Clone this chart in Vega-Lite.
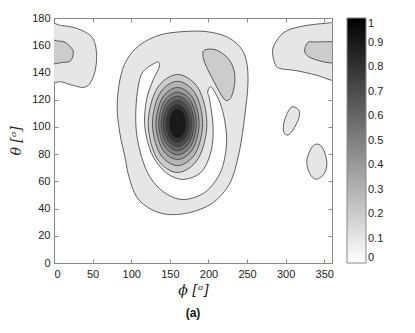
{
  "$schema": "https://vega.github.io/schema/vega-lite/v6.json",
  "width": 278,
  "height": 245,
  "autosize": {"type": "none"},
  "padding": {"left": 54, "top": 18, "right": 83, "bottom": 70},
  "title": {"text": "(a)", "orient": "bottom", "anchor": "middle", "frame": "group", "font": "Liberation Sans", "fontSize": 12, "fontWeight": "bold", "color": "#111", "offset": 11},
  "data": {"values": [
    {"s":"01","level":0.1,"i":0,"phi":167,"theta":170},
    {"s":"01","level":0.1,"i":1,"phi":137,"theta":167.5},
    {"s":"01","level":0.1,"i":2,"phi":111.2,"theta":160.2},
    {"s":"01","level":0.1,"i":3,"phi":94,"theta":149},
    {"s":"01","level":0.1,"i":4,"phi":85.3,"theta":134.5},
    {"s":"01","level":0.1,"i":5,"phi":81.8,"theta":114.8},
    {"s":"01","level":0.1,"i":6,"phi":85.3,"theta":95.3},
    {"s":"01","level":0.1,"i":7,"phi":91.8,"theta":78.1},
    {"s":"01","level":0.1,"i":8,"phi":97,"theta":63.4},
    {"s":"01","level":0.1,"i":9,"phi":106.9,"theta":48.7},
    {"s":"01","level":0.1,"i":10,"phi":124,"theta":40},
    {"s":"01","level":0.1,"i":11,"phi":145.7,"theta":35.8},
    {"s":"01","level":0.1,"i":12,"phi":171.5,"theta":36.5},
    {"s":"01","level":0.1,"i":13,"phi":197.4,"theta":41.4},
    {"s":"01","level":0.1,"i":14,"phi":214.6,"theta":48.7},
    {"s":"01","level":0.1,"i":15,"phi":229.7,"theta":61},
    {"s":"01","level":0.1,"i":16,"phi":240.4,"theta":83},
    {"s":"01","level":0.1,"i":17,"phi":246.9,"theta":107.5},
    {"s":"01","level":0.1,"i":18,"phi":251.2,"theta":132},
    {"s":"01","level":0.1,"i":19,"phi":249,"theta":149},
    {"s":"01","level":0.1,"i":20,"phi":240.4,"theta":159},
    {"s":"01","level":0.1,"i":21,"phi":223.2,"theta":166.3},
    {"s":"01","level":0.1,"i":22,"phi":197.4,"theta":170},

    {"s":"02","level":0.1,"i":0,"phi":-15,"theta":174.5},
    {"s":"02","level":0.1,"i":1,"phi":10,"theta":174.4},
    {"s":"02","level":0.1,"i":2,"phi":29.3,"theta":172.4},
    {"s":"02","level":0.1,"i":3,"phi":46.5,"theta":167.5},
    {"s":"02","level":0.1,"i":4,"phi":53,"theta":161.4},
    {"s":"02","level":0.1,"i":5,"phi":55.2,"theta":151.6},
    {"s":"02","level":0.1,"i":6,"phi":53,"theta":140.6},
    {"s":"02","level":0.1,"i":7,"phi":46.5,"theta":132},
    {"s":"02","level":0.1,"i":8,"phi":37.9,"theta":129},
    {"s":"02","level":0.1,"i":9,"phi":22.9,"theta":130.8},
    {"s":"02","level":0.1,"i":10,"phi":10,"theta":133},
    {"s":"02","level":0.1,"i":11,"phi":-15,"theta":136},

    {"s":"03","level":0.1,"i":0,"phi":375,"theta":178},
    {"s":"03","level":0.1,"i":1,"phi":358,"theta":176.5},
    {"s":"03","level":0.1,"i":2,"phi":326.6,"theta":174.5},
    {"s":"03","level":0.1,"i":3,"phi":300.8,"theta":170.5},
    {"s":"03","level":0.1,"i":4,"phi":288,"theta":163},
    {"s":"03","level":0.1,"i":5,"phi":283,"theta":156},
    {"s":"03","level":0.1,"i":6,"phi":285.7,"theta":147},
    {"s":"03","level":0.1,"i":7,"phi":292,"theta":143},
    {"s":"03","level":0.1,"i":8,"phi":313.7,"theta":141.3},
    {"s":"03","level":0.1,"i":9,"phi":339.6,"theta":138},
    {"s":"03","level":0.1,"i":10,"phi":358,"theta":134.5},
    {"s":"03","level":0.1,"i":11,"phi":375,"theta":132},

    {"s":"04","level":0.1,"i":0,"phi":307.2,"theta":114.4},
    {"s":"04","level":0.1,"i":1,"phi":317,"theta":112.4},
    {"s":"04","level":0.1,"i":2,"phi":317,"theta":106.3},
    {"s":"04","level":0.1,"i":3,"phi":309.3,"theta":97.7},
    {"s":"04","level":0.1,"i":4,"phi":302.9,"theta":94},
    {"s":"04","level":0.1,"i":5,"phi":297.3,"theta":96.5},
    {"s":"04","level":0.1,"i":6,"phi":298.6,"theta":105.1},

    {"s":"05","level":0.1,"i":0,"phi":339.6,"theta":87.4},
    {"s":"05","level":0.1,"i":1,"phi":348.1,"theta":84.3},
    {"s":"05","level":0.1,"i":2,"phi":353.3,"theta":74.4},
    {"s":"05","level":0.1,"i":3,"phi":350.3,"theta":65.9},
    {"s":"05","level":0.1,"i":4,"phi":339.6,"theta":61.5},
    {"s":"05","level":0.1,"i":5,"phi":331,"theta":65.9},
    {"s":"05","level":0.1,"i":6,"phi":327.4,"theta":74.4},
    {"s":"05","level":0.1,"i":7,"phi":331.8,"theta":83},

    {"s":"06","level":0,"i":0,"phi":133,"theta":147.5},
    {"s":"06","level":0,"i":1,"phi":115.4,"theta":140.6},
    {"s":"06","level":0,"i":2,"phi":109,"theta":129.5},
    {"s":"06","level":0,"i":3,"phi":106,"theta":112.4},
    {"s":"06","level":0,"i":4,"phi":106.9,"theta":95.3},
    {"s":"06","level":0,"i":5,"phi":113.3,"theta":78.1},
    {"s":"06","level":0,"i":6,"phi":124,"theta":63.4},
    {"s":"06","level":0,"i":7,"phi":141.3,"theta":52.4},
    {"s":"06","level":0,"i":8,"phi":163,"theta":46.8},
    {"s":"06","level":0,"i":9,"phi":184.4,"theta":48.7},
    {"s":"06","level":0,"i":10,"phi":201.6,"theta":54.9},
    {"s":"06","level":0,"i":11,"phi":216.8,"theta":68.3},
    {"s":"06","level":0,"i":12,"phi":223.2,"theta":85.5},
    {"s":"06","level":0,"i":13,"phi":222.3,"theta":100},
    {"s":"06","level":0,"i":14,"phi":216.8,"theta":114.8},
    {"s":"06","level":0,"i":15,"phi":208,"theta":125.9},
    {"s":"06","level":0,"i":16,"phi":202.5,"theta":129.5},
    {"s":"06","level":0,"i":17,"phi":199,"theta":125.5},
    {"s":"06","level":0,"i":18,"phi":201.6,"theta":119.8},
    {"s":"06","level":0,"i":19,"phi":206,"theta":100},
    {"s":"06","level":0,"i":20,"phi":203.8,"theta":83},
    {"s":"06","level":0,"i":21,"phi":193,"theta":68.3},
    {"s":"06","level":0,"i":22,"phi":175.8,"theta":62.2},
    {"s":"06","level":0,"i":23,"phi":158.6,"theta":62.2},
    {"s":"06","level":0,"i":24,"phi":141.3,"theta":68.3},
    {"s":"06","level":0,"i":25,"phi":126.3,"theta":80.6},
    {"s":"06","level":0,"i":26,"phi":117.6,"theta":100},
    {"s":"06","level":0,"i":27,"phi":119.8,"theta":119.8},
    {"s":"06","level":0,"i":28,"phi":128.4,"theta":134.5},
    {"s":"06","level":0,"i":29,"phi":134.8,"theta":141.8},
    {"s":"06","level":0,"i":30,"phi":136.5,"theta":145.5},

    {"s":"07","level":0.2,"i":0,"phi":-10,"theta":163.3},
    {"s":"07","level":0.2,"i":1,"phi":5,"theta":163.1},
    {"s":"07","level":0.2,"i":2,"phi":14.2,"theta":162.2},
    {"s":"07","level":0.2,"i":3,"phi":22.9,"theta":157.7},
    {"s":"07","level":0.2,"i":4,"phi":25,"theta":154},
    {"s":"07","level":0.2,"i":5,"phi":21.6,"theta":148.6},
    {"s":"07","level":0.2,"i":6,"phi":12,"theta":147.4},
    {"s":"07","level":0.2,"i":7,"phi":-10,"theta":147.4},

    {"s":"08","level":0.2,"i":0,"phi":375,"theta":162.8},
    {"s":"08","level":0.2,"i":1,"phi":358,"theta":162.6},
    {"s":"08","level":0.2,"i":2,"phi":338,"theta":162.4},
    {"s":"08","level":0.2,"i":3,"phi":328.7,"theta":162},
    {"s":"08","level":0.2,"i":4,"phi":324.5,"theta":155.8},
    {"s":"08","level":0.2,"i":5,"phi":330,"theta":151.5},
    {"s":"08","level":0.2,"i":6,"phi":344,"theta":148.5},
    {"s":"08","level":0.2,"i":7,"phi":358,"theta":147},
    {"s":"08","level":0.2,"i":8,"phi":375,"theta":146.7},

    {"s":"09","level":0.2,"i":0,"phi":195,"theta":156.5},
    {"s":"09","level":0.2,"i":1,"phi":210,"theta":156.5},
    {"s":"09","level":0.2,"i":2,"phi":225.3,"theta":150.4},
    {"s":"09","level":0.2,"i":3,"phi":233,"theta":141.8},
    {"s":"09","level":0.2,"i":4,"phi":234,"theta":132},
    {"s":"09","level":0.2,"i":5,"phi":229.7,"theta":122.2},
    {"s":"09","level":0.2,"i":6,"phi":223.2,"theta":119.3},
    {"s":"09","level":0.2,"i":7,"phi":216.7,"theta":123.4},
    {"s":"09","level":0.2,"i":8,"phi":206,"theta":134.5},
    {"s":"09","level":0.2,"i":9,"phi":197.4,"theta":144.2},
    {"s":"09","level":0.2,"i":10,"phi":193,"theta":151.6},

    {"s":"10","level":0.2,"i":0,"phi":198,"theta":102.5},
    {"s":"10","level":0.2,"i":1,"phi":187,"theta":128.2},
    {"s":"10","level":0.2,"i":2,"phi":160,"theta":138.5},
    {"s":"10","level":0.2,"i":3,"phi":133.2,"theta":128},
    {"s":"10","level":0.2,"i":4,"phi":122,"theta":102.5},
    {"s":"10","level":0.2,"i":5,"phi":133.2,"theta":77},
    {"s":"10","level":0.2,"i":6,"phi":160,"theta":66.5},
    {"s":"10","level":0.2,"i":7,"phi":187,"theta":77},

    {"s":"11","level":0.3,"i":0,"phi":192.5,"theta":102.5},
    {"s":"11","level":0.3,"i":1,"phi":183,"theta":124.5},
    {"s":"11","level":0.3,"i":2,"phi":160,"theta":133.5},
    {"s":"11","level":0.3,"i":3,"phi":137,"theta":124.5},
    {"s":"11","level":0.3,"i":4,"phi":127.5,"theta":102.5},
    {"s":"11","level":0.3,"i":5,"phi":137,"theta":80.5},
    {"s":"11","level":0.3,"i":6,"phi":160,"theta":71.5},
    {"s":"11","level":0.3,"i":7,"phi":183,"theta":80.5},

    {"s":"12","level":0.4,"i":0,"phi":188,"theta":102.5},
    {"s":"12","level":0.4,"i":1,"phi":179.8,"theta":121.2},
    {"s":"12","level":0.4,"i":2,"phi":160,"theta":129},
    {"s":"12","level":0.4,"i":3,"phi":140.2,"theta":121.2},
    {"s":"12","level":0.4,"i":4,"phi":132,"theta":102.5},
    {"s":"12","level":0.4,"i":5,"phi":140.2,"theta":83.8},
    {"s":"12","level":0.4,"i":6,"phi":160,"theta":76},
    {"s":"12","level":0.4,"i":7,"phi":179.8,"theta":83.8},

    {"s":"13","level":0.5,"i":0,"phi":184.4,"theta":102.5},
    {"s":"13","level":0.5,"i":1,"phi":177.3,"theta":118.8},
    {"s":"13","level":0.5,"i":2,"phi":160,"theta":125.5},
    {"s":"13","level":0.5,"i":3,"phi":142.7,"theta":118.8},
    {"s":"13","level":0.5,"i":4,"phi":135.6,"theta":102.5},
    {"s":"13","level":0.5,"i":5,"phi":142.7,"theta":86.2},
    {"s":"13","level":0.5,"i":6,"phi":160,"theta":79.5},
    {"s":"13","level":0.5,"i":7,"phi":177.3,"theta":86.2},

    {"s":"14","level":0.6,"i":0,"phi":181.5,"theta":102.5},
    {"s":"14","level":0.6,"i":1,"phi":175.2,"theta":116.6},
    {"s":"14","level":0.6,"i":2,"phi":160,"theta":122.5},
    {"s":"14","level":0.6,"i":3,"phi":144.8,"theta":116.6},
    {"s":"14","level":0.6,"i":4,"phi":138.5,"theta":102.5},
    {"s":"14","level":0.6,"i":5,"phi":144.8,"theta":88.4},
    {"s":"14","level":0.6,"i":6,"phi":160,"theta":82.5},
    {"s":"14","level":0.6,"i":7,"phi":175.2,"theta":88.4},

    {"s":"15","level":0.7,"i":0,"phi":178.5,"theta":102.5},
    {"s":"15","level":0.7,"i":1,"phi":173.1,"theta":114.5},
    {"s":"15","level":0.7,"i":2,"phi":160,"theta":119.5},
    {"s":"15","level":0.7,"i":3,"phi":146.9,"theta":114.5},
    {"s":"15","level":0.7,"i":4,"phi":141.5,"theta":102.5},
    {"s":"15","level":0.7,"i":5,"phi":146.9,"theta":90.5},
    {"s":"15","level":0.7,"i":6,"phi":160,"theta":85.5},
    {"s":"15","level":0.7,"i":7,"phi":173.1,"theta":90.5},

    {"s":"16","level":0.8,"i":0,"phi":175,"theta":102.5},
    {"s":"16","level":0.8,"i":1,"phi":170.6,"theta":112.4},
    {"s":"16","level":0.8,"i":2,"phi":160,"theta":116.5},
    {"s":"16","level":0.8,"i":3,"phi":149.4,"theta":112.4},
    {"s":"16","level":0.8,"i":4,"phi":145,"theta":102.5},
    {"s":"16","level":0.8,"i":5,"phi":149.4,"theta":92.6},
    {"s":"16","level":0.8,"i":6,"phi":160,"theta":88.5},
    {"s":"16","level":0.8,"i":7,"phi":170.6,"theta":92.6},

    {"s":"17","level":0.9,"i":0,"phi":171.2,"theta":102.5},
    {"s":"17","level":0.9,"i":1,"phi":167.9,"theta":110.3},
    {"s":"17","level":0.9,"i":2,"phi":160,"theta":113.5},
    {"s":"17","level":0.9,"i":3,"phi":152.1,"theta":110.3},
    {"s":"17","level":0.9,"i":4,"phi":148.8,"theta":102.5},
    {"s":"17","level":0.9,"i":5,"phi":152.1,"theta":94.7},
    {"s":"17","level":0.9,"i":6,"phi":160,"theta":91.5},
    {"s":"17","level":0.9,"i":7,"phi":167.9,"theta":94.7}
  ]},
  "layer": [
    {
      "mark": {"type": "line", "interpolate": "cardinal-closed", "stroke": "#3a3a3a", "strokeWidth": 0.8, "clip": true},
      "encoding": {
        "x": {"field": "phi", "type": "quantitative", "scale": {"domain": [0, 360], "nice": false, "zero": false},
              "axis": {"values": [0, 50, 100, 150, 200, 250, 300, 350], "title": "ϕ [ᵒ]", "labelPadding": 9, "titlePadding": 4}},
        "y": {"field": "theta", "type": "quantitative", "scale": {"domain": [0, 180], "nice": false, "zero": false},
              "axis": {"values": [0, 20, 40, 60, 80, 100, 120, 140, 160, 180], "title": "θ [ᵒ]", "labelPadding": 8, "titlePadding": 8}},
        "detail": {"field": "s", "type": "nominal"},
        "order": {"field": "i", "type": "quantitative"},
        "fill": {"field": "level", "type": "quantitative",
                 "scale": {"domain": [0, 1], "range": ["#ffffff", "#000000"], "interpolate": "rgb"},
                 "legend": {"title": null, "values": [0, 0.1, 0.2, 0.3, 0.4, 0.5, 0.6, 0.7, 0.8, 0.9, 1], "format": ".1~f", "labelBaseline": "middle"}}
      }
    },
    {
      "mark": {"type": "point", "opacity": 0},
      "encoding": {
        "x": {"field": "phi", "type": "quantitative", "axis": {"orient": "top", "labels": false, "title": null, "values": [0, 50, 100, 150, 200, 250, 300, 350]}},
        "y": {"field": "theta", "type": "quantitative", "axis": {"orient": "right", "labels": false, "title": null, "values": [0, 20, 40, 60, 80, 100, 120, 140, 160, 180]}}
      }
    }
  ],
  "resolve": {"axis": {"x": "independent", "y": "independent"}},
  "config": {
    "view": {"stroke": "#888888"},
    "axis": {"grid": false, "domainColor": "#888888", "tickColor": "#888888", "tickSize": -4,
             "labelFont": "Liberation Sans", "labelFontSize": 11, "labelColor": "#222222",
             "titleFont": "DejaVu Serif", "titleFontSize": 14, "titleFontWeight": "normal", "titleFontStyle": "italic", "titleColor": "#222222"},
    "legend": {"orient": "right", "offset": 14, "gradientLength": 245, "gradientThickness": 19, "padding": 0,
               "gradientStrokeColor": "#888888", "gradientStrokeWidth": 1, "labelFont": "Liberation Sans", "labelFontSize": 11,
               "labelColor": "#222222", "labelOffset": 4, "labelOverlap": false}
  }
}
